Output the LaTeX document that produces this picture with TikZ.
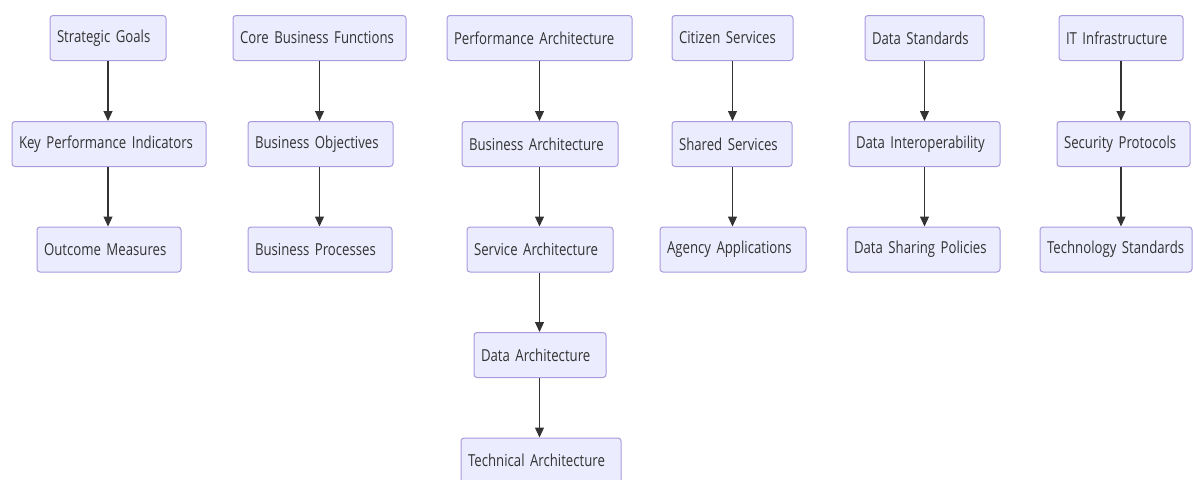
\documentclass[tikz,border=0pt]{standalone}
\usepackage{fontspec}
\setmainfont{Open Sans}[FakeStretch=0.8]
\usetikzlibrary{arrows.meta}
\definecolor{boxfill}{HTML}{ECECFF}
\definecolor{boxline}{HTML}{A999DD}
\definecolor{txt}{HTML}{333333}
\definecolor{arr}{HTML}{333333}
\newcommand\myboxfont{\fontsize{16.5}{18}\selectfont\fontdimen2\font=2.6pt\fontdimen3\font=0pt\fontdimen4\font=0pt\relax}
\tikzset{
  box/.style={draw=boxline, fill=boxfill, line width=1pt, rounded corners=3pt,
    minimum height=45pt, inner xsep=7pt, inner ysep=0pt, align=left, text=txt,
    font=\myboxfont, anchor=center},
  link/.style={draw=arr, line width=1.1pt, -{Triangle[length=10pt,width=9pt]}}
}
\begin{document}
\begin{tikzpicture}[x=1pt,y=-1pt]
\useasboundingbox (0,0) rectangle (1193,479);
% column 1
\node[box, text width=102pt] (sg) at (108,38) {Strategic Goals};
\node[box, text width=180pt] (kpi) at (109,144) {Key Performance Indicators};
\node[box, text width=130pt] (om) at (109,249.5) {Outcome Measures};
% column 2
\node[box, text width=159pt] (cbf) at (319.5,38) {Core Business Functions};
\node[box, text width=131pt] (bo) at (320.5,144) {Business Objectives};
\node[box, text width=130pt] (bp) at (320,249.5) {Business Processes};
% column 3
\node[box, text width=171pt] (pa) at (539.5,38) {Performance Architecture};
\node[box, text width=142pt] (ba) at (540,144) {Business Architecture};
\node[box, text width=132pt] (sa) at (540,249.5) {Service Architecture};
\node[box, text width=118pt] (da) at (540,355) {Data Architecture};
\node[box, text width=146pt] (ta) at (541,460.5) {Technical Architecture};
% column 4
\node[box, text width=107pt] (cs) at (732.5,38) {Citizen Services};
\node[box, text width=106pt] (ss) at (732,144) {Shared Services};
\node[box, text width=132pt] (aa) at (733,249.5) {Agency Applications};
% column 5
\node[box, text width=105pt] (ds) at (924.5,38) {Data Standards};
\node[box, text width=137pt] (di) at (924.5,144) {Data Interoperability};
\node[box, text width=139pt] (dsp) at (923.5,249.5) {Data Sharing Policies};
% column 6
\node[box, text width=110pt] (it) at (1121,38) {IT Infrastructure};
\node[box, text width=119pt] (sp) at (1123.5,144) {Security Protocols};
\node[box, text width=138pt] (ts) at (1116,249.5) {Technology Standards};
% links
\draw[link] (sg) -- (sg |- kpi.north);
\draw[link] (sg |- kpi.south) -- (sg |- om.north);
\draw[link] (cbf) -- (cbf |- bo.north);
\draw[link] (cbf |- bo.south) -- (cbf |- bp.north);
\draw[link] (pa) -- (pa |- ba.north);
\draw[link] (pa |- ba.south) -- (pa |- sa.north);
\draw[link] (pa |- sa.south) -- (pa |- da.north);
\draw[link] (pa |- da.south) -- (pa |- ta.north);
\draw[link] (cs) -- (cs |- ss.north);
\draw[link] (cs |- ss.south) -- (cs |- aa.north);
\draw[link] (ds) -- (ds |- di.north);
\draw[link] (ds |- di.south) -- (ds |- dsp.north);
\draw[link] (it) -- (it |- sp.north);
\draw[link] (it |- sp.south) -- (it |- ts.north);
\end{tikzpicture}
\end{document}
